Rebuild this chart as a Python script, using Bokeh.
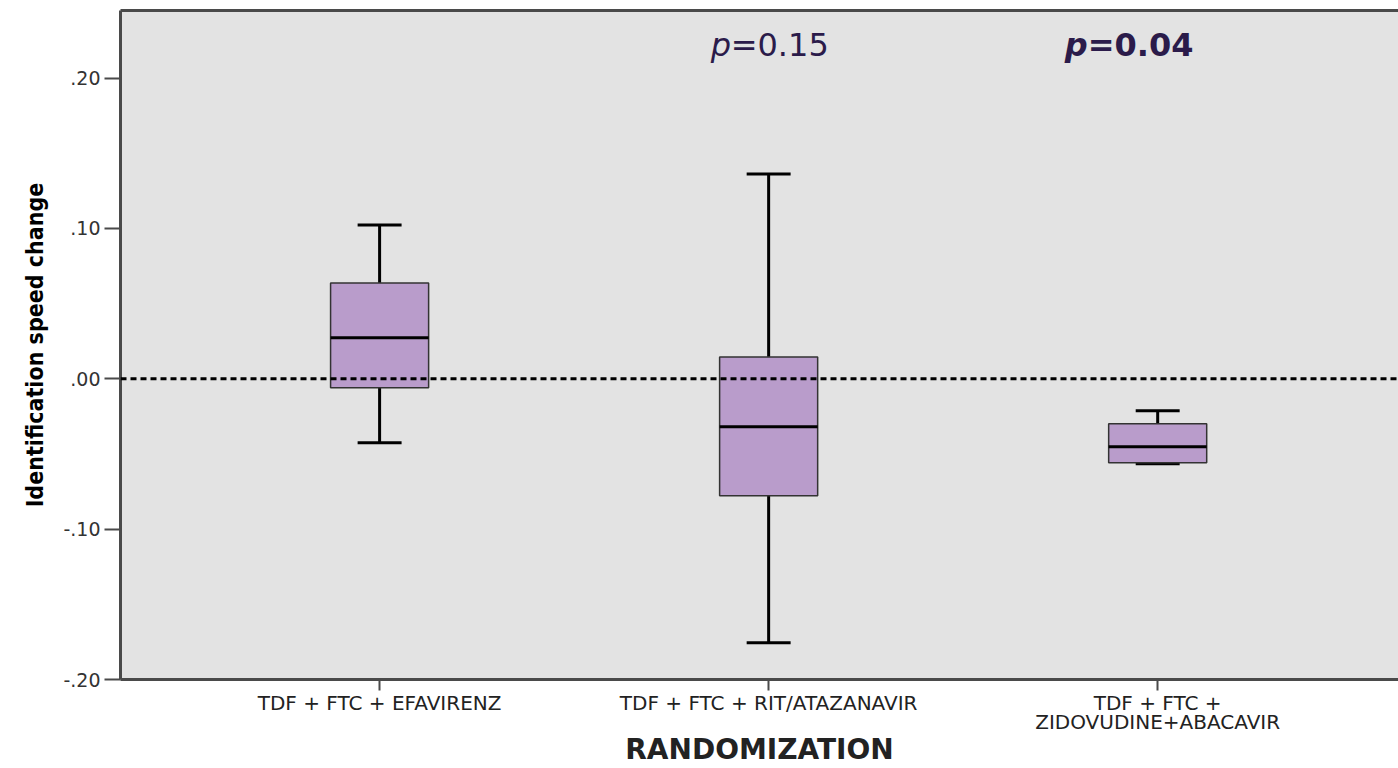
from bokeh.plotting import figure
from bokeh.models import FixedTicker, LinearAxis, Span, ColumnDataSource, Range1d
from bokeh.core.properties import value
from bokeh.embed import file_html
from bokeh.resources import INLINE

# ---- data ----
categories = ["TDF + FTC + EFAVIRENZ",
              "TDF + FTC + RIT/ATAZANAVIR",
              "TDF + FTC +\nZIDOVUDINE+ABACAVIR"]
positions = [1, 2, 3]
lower_whisker = [-0.0426, -0.1755, -0.0565]
q1 = [-0.0060, -0.0778, -0.0559]
median = [0.0273, -0.0319, -0.0452]
q3 = [0.0638, 0.0146, -0.0299]
upper_whisker = [0.1024, 0.1363, -0.0213]
y_ticks = [-0.2, -0.1, 0.0, 0.1, 0.2]
y_tick_labels = ["-.20", "-.10", ".00", ".10", ".20"]
p_texts = ["=0.15", "=0.04"]
p_bold = [False, True]

# ---- styling ----
BOX_W = 0.252
CAP_W = 0.113
TXT = "#2b1b4a"

p = figure(width=1398, height=768, output_backend="svg", toolbar_location=None,
           x_range=Range1d(0.334, 3.619), y_range=Range1d(-0.2, 0.245),
           min_border_left=120, min_border_right=0, min_border_top=10,
           min_border_bottom=89, x_axis_location=None, y_axis_location=None)
p.background_fill_color = "#e3e3e3"
p.border_fill_color = "white"
p.outline_line_color = None
p.grid.visible = False

# left axis
ya = LinearAxis(ticker=FixedTicker(ticks=y_ticks),
                major_label_overrides={t: l for t, l in zip(y_ticks, y_tick_labels)},
                axis_label="Identification speed change")
ya.axis_line_width = 3
ya.axis_line_color = "#4a4a4a"
ya.major_tick_in = 0
ya.major_tick_out = 16
ya.major_tick_line_width = 2
ya.major_tick_line_color = "#4a4a4a"
ya.minor_tick_line_color = None
ya.major_label_text_font = "DejaVu Sans"
ya.major_label_text_font_size = "19px"
ya.major_label_text_color = "#333333"
ya.major_label_standoff = 4
ya.axis_label_text_font = "DejaVu Sans Condensed"
ya.axis_label_text_font_style = "bold"
ya.axis_label_text_font_size = "23px"
ya.axis_label_text_color = "black"
ya.axis_label_standoff = 12
p.add_layout(ya, "left")

# bottom axis
xa = LinearAxis(ticker=FixedTicker(ticks=positions),
                major_label_overrides={pos: c for pos, c in zip(positions, categories)},
                axis_label="RANDOMIZATION")
xa.axis_line_width = 3
xa.axis_line_color = "#4a4a4a"
xa.major_tick_in = 0
xa.major_tick_out = 11
xa.major_tick_line_width = 2
xa.major_tick_line_color = "#4a4a4a"
xa.minor_tick_line_color = None
xa.major_label_text_font = "DejaVu Sans"
xa.major_label_text_font_size = "20px"
xa.major_label_text_color = "#222222"
xa.major_label_text_line_height = 0.8
xa.major_label_standoff = 0
xa.axis_label_text_font = "DejaVu Sans"
xa.axis_label_text_font_style = "bold"
xa.axis_label_text_font_size = "28px"
xa.axis_label_text_color = "#222222"
xa.axis_label_standoff = -4
p.add_layout(xa, "below")

# top border
ta = LinearAxis(ticker=FixedTicker(ticks=[]))
ta.axis_line_width = 3
ta.axis_line_color = "#4a4a4a"
ta.major_tick_line_color = None
ta.minor_tick_line_color = None
ta.major_label_text_font_size = "0px"
ta.major_label_standoff = 0
p.add_layout(ta, "above")

# zero reference line
p.add_layout(Span(location=0, dimension="width", line_color="black",
                  line_width=3, line_dash="6 4"))

src = ColumnDataSource(dict(
    x=positions, lo=lower_whisker, q1=q1, med=median, q3=q3, hi=upper_whisker,
    cl=[x - CAP_W / 2 for x in positions], cr=[x + CAP_W / 2 for x in positions],
))

# whiskers
p.segment(x0="x", y0="q3", x1="x", y1="hi", source=src, line_color="black", line_width=3)
p.segment(x0="x", y0="lo", x1="x", y1="q1", source=src, line_color="black", line_width=3)
p.segment(x0="cl", y0="hi", x1="cr", y1="hi", source=src, line_color="black", line_width=3)
p.segment(x0="cl", y0="lo", x1="cr", y1="lo", source=src, line_color="black", line_width=3)

# boxes
p.vbar(x="x", width=BOX_W, bottom="q1", top="q3", source=src,
       fill_color="#b99ccb", line_color="#333333", line_width=1.5)
# medians
p.segment(x0=[x - BOX_W / 2 for x in positions], y0=median,
          x1=[x + BOX_W / 2 for x in positions], y1=median,
          line_color="black", line_width=3)

# p-value annotations
p_x = [1.851, 2.761]
p_y = 0.2145
for xx, t, b in zip(p_x, p_texts, p_bold):
    p.text(x=[xx], y=[p_y], text=["p"], text_font=value("DejaVu Sans"),
           text_font_style="bold italic" if b else "italic",
           text_font_size="32px", text_color=TXT, text_baseline="alphabetic",
           text_align="left", y_offset=-11)
    p.text(x=[xx], y=[p_y], text=[t], text_font=value("DejaVu Sans"),
           text_font_style="bold" if b else "normal",
           text_font_size="32px", text_color=TXT, text_baseline="alphabetic",
           text_align="left", x_offset=23 if b else 20, y_offset=-11)

open("out.html", "w").write(file_html(p, INLINE))
